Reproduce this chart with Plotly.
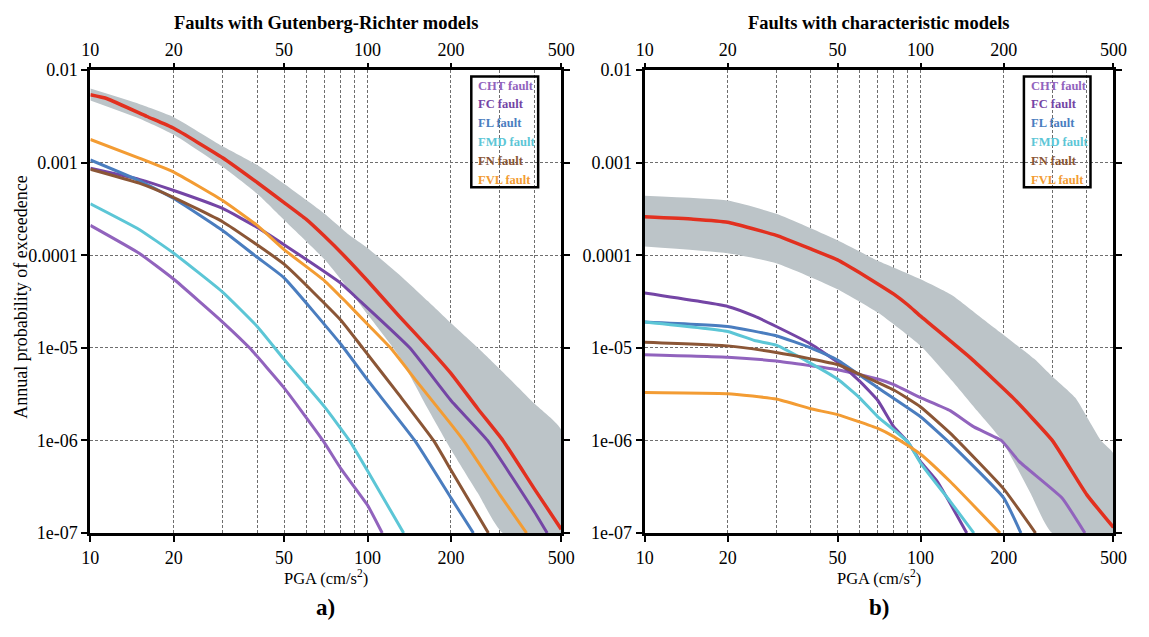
import plotly.graph_objects as go

# ---- axes ----
PGA_TICKS = [10, 20, 50, 100, 200, 500]
PGA_GRID = [20, 30, 40, 50, 60, 70, 80, 90, 100, 200, 300, 400]
PROB_TICKS = [1e-2, 1e-3, 1e-4, 1e-5, 1e-6, 1e-7]
PROB_LABELS = ["0.01", "0.001", "0.0001", "1e-05", "1e-06", "1e-07"]

PANEL_TITLES = ["Faults with Gutenberg-Richter models", "Faults with characteristic models"]
PANEL_TAGS = ["a)", "b)"]

FAULTS = ["CHT fault", "FC fault", "FL fault", "FMD fault", "FN fault", "FVL fault"]
FAULT_COLORS = ["#9163bd", "#7445a5", "#4a7dbf", "#5cc6d6", "#8b5636", "#f39c33"]
TOTAL_COLOR = "#e2301f"
BAND_COLOR = "#bcc4c8"

# ---- panel a: Gutenberg-Richter recurrence (PGA cm/s2, annual probability) ----
GR_TOTAL = [(10, 5.4e-3), (11.5, 4.9e-3), (16, 3.15e-3), (20, 2.35e-3), (30, 1.13e-3),
            (40, 6.1e-4), (50, 3.7e-4), (60, 2.45e-4), (70, 1.6e-4), (82, 1.0e-4),
            (100, 5.3e-5), (130, 2.2e-5), (166, 1.0e-5), (200, 5.3e-6), (250, 2.2e-6),
            (308, 1.0e-6), (400, 3.0e-7), (500, 1.1e-7)]
GR_BAND_HI = [(10, 6.3e-3), (15, 4.3e-3), (20, 3.1e-3), (30, 1.5e-3), (40, 9.4e-4),
              (50, 5.9e-4), (70, 2.8e-4), (85, 1.7e-4), (100, 1.2e-4), (130, 6.2e-5),
              (165, 3.2e-5), (200, 1.85e-5), (250, 1.0e-5), (300, 5.9e-6), (400, 2.5e-6),
              (500, 1.3e-6)]
GR_BAND_LO = [(10, 4.7e-3), (15, 3.0e-3), (20, 2.0e-3), (30, 9.0e-4), (40, 4.6e-4),
              (50, 2.4e-4), (70, 9.0e-5), (85, 4.4e-5), (100, 2.3e-5), (130, 8.1e-6),
              (165, 2.2e-6), (200, 8.0e-7), (250, 2.7e-7), (308, 1.0e-7)]
GR_CHT = [(10, 2.1e-4), (15, 1.05e-4), (20, 5.5e-5), (30, 1.9e-5), (37.5, 1.0e-5),
          (50, 3.7e-6), (69, 1.0e-6), (80, 5.0e-7), (100, 2.0e-7), (113, 1.0e-7)]
GR_FC = [(10, 8.7e-4), (15, 6.6e-4), (20, 5.0e-4), (30, 3.2e-4), (40, 2.0e-4),
         (50, 1.3e-4), (80, 5.0e-5), (94, 3.2e-5), (142, 1.0e-5), (200, 2.7e-6),
         (271, 1.0e-6), (400, 1.7e-7), (445, 1.0e-7)]
GR_FL = [(10, 1.07e-3), (15, 6.4e-4), (20, 4.1e-4), (30, 1.85e-4), (40, 9.5e-5),
         (50, 5.7e-5), (80, 1.1e-5), (100, 4.5e-6), (148, 1.0e-6), (200, 2.4e-7),
         (241, 1.0e-7)]
GR_FMD = [(10, 3.6e-4), (15, 1.9e-4), (20, 1.05e-4), (30, 4.0e-5), (40, 1.7e-5),
          (50, 7.5e-6), (70, 2.3e-6), (86, 1.0e-6), (100, 4.7e-7), (135, 1.0e-7)]
GR_FN = [(10, 8.5e-4), (15, 6.0e-4), (20, 4.2e-4), (30, 2.3e-4), (50, 8.0e-5),
         (80, 2.0e-5), (96, 1.0e-5), (130, 3.1e-6), (173, 1.0e-6), (200, 4.8e-7),
         (273, 1.0e-7)]
GR_FVL = [(10, 1.78e-3), (15, 1.12e-3), (20, 7.9e-4), (30, 3.9e-4), (40, 2.1e-4),
          (50, 1.15e-4), (70, 5.3e-5), (83, 3.2e-5), (100, 1.8e-5), (121, 1.0e-5),
          (150, 4.4e-6), (200, 1.5e-6), (222, 1.0e-6), (300, 2.6e-7), (375, 1.0e-7)]

# ---- panel b: characteristic recurrence ----
CH_TOTAL = [(10, 2.6e-4), (15, 2.45e-4), (20, 2.27e-4), (30, 1.64e-4), (40, 1.17e-4),
            (50, 8.9e-5), (60, 6.5e-5), (70, 4.9e-5), (80, 3.8e-5), (90, 2.9e-5),
            (100, 2.2e-5), (153, 7.6e-6), (216, 2.9e-6), (300, 1.0e-6), (400, 2.6e-7),
            (500, 1.15e-7)]
CH_BAND_HI = [(10, 4.4e-4), (20, 3.9e-4), (30, 2.8e-4), (50, 1.45e-4), (70, 8.7e-5),
              (100, 5.5e-5), (130, 3.7e-5), (170, 2.0e-5), (258, 7.6e-6), (300, 4.9e-6),
              (363, 2.9e-6), (450, 1.0e-6), (500, 7.2e-7)]
CH_BAND_LO = [(10, 1.24e-4), (20, 1.05e-4), (30, 8.2e-5), (50, 4.3e-5), (70, 2.4e-5),
              (100, 1.05e-5), (130, 4.4e-6), (160, 2.1e-6), (197, 1.0e-6), (250, 2.7e-7),
              (300, 1.0e-7)]
CH_CHT = [(10, 8.4e-6), (20, 7.9e-6), (30, 7.2e-6), (40, 6.4e-6), (50, 5.8e-6),
          (70, 4.6e-6), (80, 4.0e-6), (100, 2.9e-6), (128, 2.1e-6), (156, 1.4e-6),
          (196, 1.0e-6), (228, 5.9e-7), (325, 2.4e-7), (394, 1.0e-7)]
CH_FC = [(10, 3.9e-5), (20, 2.8e-5), (25, 2.2e-5), (30, 1.7e-5), (40, 1.1e-5),
         (50, 7.0e-6), (60, 4.4e-6), (70, 2.7e-6), (80, 1.4e-6), (90, 9.6e-7),
         (100, 5.9e-7), (115, 3.6e-7), (147, 1.0e-7)]
CH_FL = [(10, 1.9e-5), (20, 1.7e-5), (30, 1.35e-5), (40, 1.0e-5), (50, 7.4e-6),
         (70, 3.7e-6), (100, 1.8e-6), (130, 8.9e-7), (200, 2.4e-7), (231, 1.0e-7)]
CH_FMD = [(10, 1.9e-5), (20, 1.5e-5), (25, 1.2e-5), (30, 1.07e-5), (40, 6.8e-6),
          (50, 4.6e-6), (60, 2.9e-6), (70, 1.8e-6), (80, 1.3e-6), (90, 9.6e-7),
          (100, 5.7e-7), (128, 2.2e-7), (156, 1.0e-7)]
CH_FN = [(10, 1.15e-5), (20, 1.05e-5), (30, 8.9e-6), (40, 7.6e-6), (50, 6.6e-6),
         (60, 5.2e-6), (80, 3.5e-6), (100, 2.3e-6), (128, 1.2e-6), (200, 3.0e-7),
         (261, 1.0e-7)]
CH_FVL = [(10, 3.3e-6), (20, 3.2e-6), (30, 2.8e-6), (40, 2.2e-6), (50, 1.9e-6),
          (70, 1.35e-6), (80, 1.1e-6), (100, 7.1e-7), (128, 3.6e-7), (194, 1.0e-7)]

PANELS = [
    dict(total=GR_TOTAL, hi=GR_BAND_HI, lo=GR_BAND_LO,
         faults=[GR_CHT, GR_FC, GR_FL, GR_FMD, GR_FN, GR_FVL]),
    dict(total=CH_TOTAL, hi=CH_BAND_HI, lo=CH_BAND_LO,
         faults=[CH_CHT, CH_FC, CH_FL, CH_FMD, CH_FN, CH_FVL]),
]

# ---- layout geometry (paper fractions) ----
X_DOMAINS = [[0.0722, 0.4900], [0.5640, 0.9800]]
Y_DOMAIN = [0.1523, 0.9027]
FONT = "Liberation Serif"


def xs(pairs):
    return [p[0] for p in pairs]


def ys(pairs):
    return [p[1] for p in pairs]


fig = go.Figure()

for i, panel in enumerate(PANELS):
    xa = "x" if i == 0 else "x2"
    ya = "y" if i == 0 else "y2"

    # uncertainty band: upper edge, bottom-right frame corner, lower edge back
    band_x = xs(panel["hi"]) + [PGA_TICKS[-1]] + xs(panel["lo"])[::-1]
    band_y = ys(panel["hi"]) + [PROB_TICKS[-1]] + ys(panel["lo"])[::-1]
    fig.add_trace(go.Scatter(x=band_x, y=band_y, fill="toself", fillcolor=BAND_COLOR,
                             line=dict(width=0, color=BAND_COLOR, shape="spline",
                                       smoothing=0.5),
                             mode="lines", hoverinfo="skip", showlegend=False,
                             xaxis=xa, yaxis=ya))

    for name, color, data in zip(FAULTS, FAULT_COLORS, panel["faults"]):
        fig.add_trace(go.Scatter(x=xs(data), y=ys(data), mode="lines", name=name,
                                 line=dict(color=color, width=3, shape="spline",
                                           smoothing=0.4),
                                 showlegend=False, xaxis=xa, yaxis=ya))

    fig.add_trace(go.Scatter(x=xs(panel["total"]), y=ys(panel["total"]), mode="lines",
                             name="Total", line=dict(color=TOTAL_COLOR, width=3.5,
                                                     shape="spline", smoothing=0.4),
                             showlegend=False, xaxis=xa, yaxis=ya))

x_range = [1, 2.69897]
y_range = [-7, -2]

common_x = dict(type="log", range=x_range, tickvals=PGA_TICKS,
                ticktext=[str(v) for v in PGA_TICKS], ticks="outside", ticklen=6,
                tickwidth=2, tickcolor="black",
                tickfont=dict(family=FONT, size=18, color="black"),
                showline=True, linewidth=3, linecolor="black", mirror=True,
                showgrid=False, zeroline=False,
                minor=dict(tickvals=PGA_GRID, showgrid=True, gridcolor="#6e6e6e",
                           gridwidth=1.2, griddash="3px,2px", ticks=""))
common_top = dict(type="log", range=x_range, tickvals=PGA_TICKS,
                  ticktext=[str(v) for v in PGA_TICKS], ticks="outside", ticklen=6,
                  tickwidth=2, tickcolor="black", side="top",
                  tickfont=dict(family=FONT, size=18, color="black"),
                  showline=False, showgrid=False, zeroline=False)
common_y = dict(type="log", range=y_range, domain=Y_DOMAIN, tickvals=PROB_TICKS,
                ticktext=PROB_LABELS, ticks="outside", ticklen=6, tickwidth=2,
                tickcolor="black", tickfont=dict(family=FONT, size=18, color="black"),
                showline=True, linewidth=3, linecolor="black", mirror="ticks",
                showgrid=True, gridcolor="#6e6e6e", gridwidth=1.2, griddash="3px,2px",
                zeroline=False)

fig.update_layout(
    width=1149, height=637,
    margin=dict(l=0, r=0, t=0, b=0),
    paper_bgcolor="white", plot_bgcolor="white",
    showlegend=False,
    font=dict(family=FONT, color="black"),
    xaxis=dict(common_x, domain=X_DOMAINS[0], anchor="y"),
    xaxis2=dict(common_x, domain=X_DOMAINS[1], anchor="y2"),
    xaxis3=dict(common_top, overlaying="x", matches="x", anchor="y"),
    xaxis4=dict(common_top, overlaying="x2", matches="x2", anchor="y2"),
    yaxis=dict(common_y, anchor="x"),
    yaxis2=dict(common_y, anchor="x2"),
)

# invisible carriers so the top axes are rendered
for xa, ya in (("x3", "y"), ("x4", "y2")):
    fig.add_trace(go.Scatter(x=[PGA_TICKS[0]], y=[PROB_TICKS[0]], mode="markers",
                             marker=dict(opacity=0), hoverinfo="skip",
                             showlegend=False, xaxis=xa, yaxis=ya))

annotations = []
shapes = []
for i in range(2):
    cx = (X_DOMAINS[i][0] + X_DOMAINS[i][1]) / 2
    annotations.append(dict(text="<b>" + PANEL_TITLES[i] + "</b>", x=cx, y=0.979,
                            xref="paper", yref="paper", showarrow=False,
                            font=dict(family=FONT, size=18.5, color="black"),
                            xanchor="center", yanchor="middle"))
    annotations.append(dict(text="PGA (cm/s<sup>2</sup>)", x=cx, y=0.080,
                            xref="paper", yref="paper", showarrow=False,
                            font=dict(family=FONT, size=16.5, color="black"),
                            xanchor="center", yanchor="middle"))
    annotations.append(dict(text="<b>" + PANEL_TAGS[i] + "</b>", x=cx, y=0.031,
                            xref="paper", yref="paper", showarrow=False,
                            font=dict(family=FONT, size=23, color="black"),
                            xanchor="center", yanchor="middle"))

    xref = "x domain" if i == 0 else "x2 domain"
    yref = "y domain" if i == 0 else "y2 domain"
    shapes.append(dict(type="rect", xref=xref, yref=yref, x0=0.809, x1=0.951,
                       y0=0.747, y1=0.986, line=dict(color="black", width=2.5),
                       fillcolor="rgba(255,255,255,0)", layer="above"))
    for k, (name, color) in enumerate(zip(FAULTS, FAULT_COLORS)):
        annotations.append(dict(text="<b>" + name + "</b>", x=0.82,
                                y=0.9665 - k * 0.0406, xref=xref, yref=yref,
                                showarrow=False, xanchor="left", yanchor="middle",
                                font=dict(family=FONT, size=12.5, color=color)))

annotations.append(dict(text="Annual probability of exceedence", x=0.0105, y=0.535,
                        xref="paper", yref="paper", showarrow=False, textangle=-90,
                        font=dict(family=FONT, size=18, color="black"),
                        xanchor="center", yanchor="middle"))

fig.update_layout(annotations=annotations, shapes=shapes)

fig.write_html("out.html")
